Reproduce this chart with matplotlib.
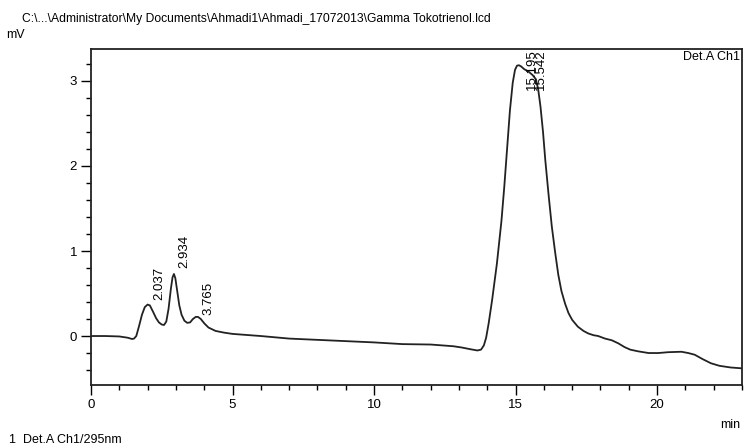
import matplotlib
matplotlib.use("Agg")
import matplotlib.pyplot as plt
from matplotlib.ticker import MultipleLocator

plt.rcParams['font.family'] = ['Liberation Sans', 'DejaVu Sans']

# Chromatogram trace (time in min, signal in mV)
time_min = [0.0, 0.5, 1.0, 1.3, 1.45, 1.52, 1.6, 1.7, 1.8, 1.9, 2.0, 2.08, 2.2, 2.3,
            2.4, 2.5, 2.58, 2.66, 2.74, 2.82, 2.88, 2.93, 2.98, 3.05, 3.12, 3.2, 3.3,
            3.4, 3.5, 3.6, 3.7, 3.78, 3.88, 4.0, 4.15, 4.4, 4.7, 5.0, 6.0, 7.0,
            8.0, 9.0, 10.0, 11.0, 12.0, 12.8, 13.1, 13.4, 13.65, 13.78, 13.88, 13.96,
            14.05, 14.17, 14.34, 14.5, 14.6, 14.7, 14.8, 14.9, 14.98, 15.05, 15.12,
            15.2, 15.3, 15.46, 15.6, 15.72, 15.8, 15.88, 15.97, 16.05, 16.17, 16.28,
            16.4, 16.51, 16.62, 16.75, 16.87, 17.0, 17.2, 17.4, 17.57, 17.75, 17.92,
            18.16, 18.4, 18.63, 18.85, 19.05, 19.33, 19.7, 20.04, 20.4, 20.86, 21.1,
            21.33, 21.6, 21.9, 22.2, 22.6, 23.0]
signal_mv = [0.0, 0.0, -0.005, -0.02, -0.035, -0.03, 0.0, 0.12, 0.25, 0.34, 0.37, 0.36,
             0.28, 0.21, 0.16, 0.135, 0.13, 0.17, 0.32, 0.55, 0.69, 0.73, 0.68, 0.52,
             0.36, 0.25, 0.18, 0.155, 0.16, 0.2, 0.225, 0.225, 0.2, 0.15, 0.1, 0.06,
             0.04, 0.025, 0.0, -0.03, -0.045, -0.06, -0.075, -0.095, -0.1, -0.12,
             -0.135, -0.155, -0.17, -0.16, -0.11, -0.02, 0.15, 0.42, 0.85, 1.35, 1.75,
             2.2, 2.65, 2.98, 3.13, 3.18, 3.185, 3.17, 3.14, 3.11, 3.07, 3.02, 2.9, 2.7,
             2.4, 2.07, 1.65, 1.29, 0.98, 0.72, 0.53, 0.38, 0.27, 0.19, 0.11, 0.06,
             0.03, 0.01, 0.0, -0.03, -0.05, -0.086, -0.13, -0.16, -0.18, -0.2, -0.2,
             -0.19, -0.185, -0.2, -0.22, -0.27, -0.32, -0.35, -0.37, -0.38]

# Peak labels
peak_labels = ["2.037", "2.934", "3.765", "15.195", "15.542"]
peak_times = [2.037, 2.934, 3.765, 15.195, 15.542]
peak_label_y = [0.42, 0.80, 0.25, 2.89, 2.89]

x_ticks = [0, 5, 10, 15, 20]
y_ticks = [0, 1, 2, 3]

fig = plt.figure(figsize=(7.44, 4.47), dpi=100)
ax = fig.add_axes([91/744, 1 - 385/447, (742 - 91)/744, (385 - 49)/447])

ax.plot(time_min, signal_mv, color='#222222', lw=1.3)
ax.set_xlim(0, 23)
ax.set_ylim(-0.576, 3.376)

ax.set_xticks(x_ticks)
ax.set_yticks(y_ticks)
ax.xaxis.set_minor_locator(MultipleLocator(1))
ax.yaxis.set_minor_locator(MultipleLocator(0.2))
ax.tick_params(which='major', direction='out', length=7, width=1.0, labelsize=9.5, pad=3)
ax.tick_params(which='minor', direction='out', length=3.5, width=1.0)
for sp in ax.spines.values():
    sp.set_linewidth(1.3)
    sp.set_color('#222222')

for lab, t, y in zip(peak_labels, peak_times, peak_label_y):
    ax.text(t + 0.16, y, lab, rotation=90, ha='left', va='bottom', fontsize=9.5,
            clip_on=True)

ax.text(0.997, 0.995, "Det.A Ch1", transform=ax.transAxes, ha='right', va='top', fontsize=9)

fig.text(22/744, 1 - 19/447, r"C:\...\Administrator\My Documents\Ahmadi1\Ahmadi_17072013\Gamma Tokotrienol.lcd",
         ha='left', va='center', fontsize=8.7)
fig.text(6/744, 1 - 35/447, "mV", ha='left', va='center', fontsize=9)
fig.text(740/744, 1 - 425/447, "min", ha='right', va='center', fontsize=9)
fig.text(9/744, 1 - 443/447, "1  Det.A Ch1/295nm", ha='left', va='baseline', fontsize=9)

fig.savefig("out.png", dpi=100)
